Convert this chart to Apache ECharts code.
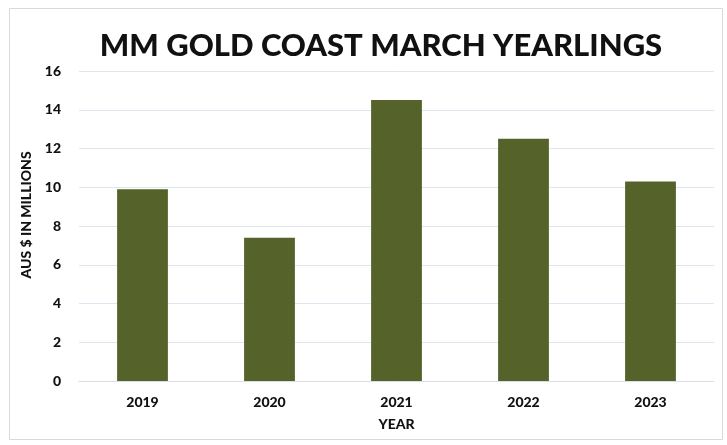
<!DOCTYPE html>
<html>
<head>
<meta charset="utf-8">
<script src="https://cdn.jsdelivr.net/npm/echarts@6/dist/echarts.min.js"></script>
<style>html,body{margin:0;padding:0;background:#fff;}#c{width:727px;height:445px;}</style>
</head>
<body>
<div id="c"></div>
<script>
const years = ['2019', '2020', '2021', '2022', '2023'];
const values = [9.9, 7.4, 14.5, 12.5, 10.3];
const yTicks = { min: 0, max: 16, interval: 2 };

const chart = echarts.init(document.getElementById('c'), null, { renderer: 'canvas' });
chart.setOption({
  backgroundColor: '#ffffff',
  animation: false,
  graphic: [{
    type: 'rect', left: 7, top: 6, shape: { width: 713, height: 431 },
    style: { fill: 'none', stroke: '#d9d9d9', lineWidth: 1 }, silent: true, z: -1
  }],
  title: {
    text: 'MM GOLD COAST MARCH YEARLINGS',
    left: 376, top: 25, textAlign: 'center',
    textStyle: { fontFamily: 'Lato', fontWeight: 900, fontSize: 31, color: '#111' }
  },
  grid: { left: 79, right: 13, top: 71, bottom: 64 },
  xAxis: {
    type: 'category', data: years,
    name: 'YEAR', nameLocation: 'middle', nameGap: 36,
    nameTextStyle: { fontFamily: 'Lato', fontWeight: 900, fontSize: 14, color: '#111' },
    axisLine: { lineStyle: { color: '#d6dfe8' } },
    axisTick: { show: false },
    axisLabel: { fontFamily: 'Lato', fontWeight: 900, fontSize: 14, color: '#111', margin: 14 }
  },
  yAxis: {
    type: 'value', min: yTicks.min, max: yTicks.max, interval: yTicks.interval,
    name: 'AUS $ IN MILLIONS', nameLocation: 'middle', nameGap: 46, nameRotate: 90,
    nameTextStyle: { fontFamily: 'Lato', fontWeight: 900, fontSize: 14, color: '#111', padding: [0, 0, 0, 22] },
    axisLine: { show: false }, axisTick: { show: false },
    splitLine: { lineStyle: { color: '#dde6ee' } },
    axisLabel: { fontFamily: 'Lato', fontWeight: 900, fontSize: 14, color: '#111', margin: 18 }
  },
  series: [{
    type: 'bar', data: values, barCategoryGap: '60%',
    itemStyle: { color: '#55622a' }
  }]
});
</script>
</body>
</html>
